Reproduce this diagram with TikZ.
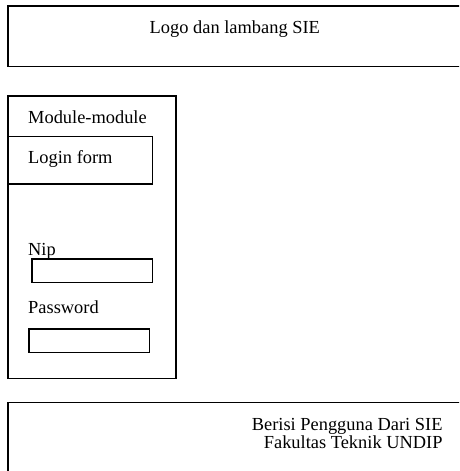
\documentclass[tikz,border=0pt]{standalone}
\usepackage{fontspec}
\setmainfont{Liberation Serif}
\begin{document}
\begin{tikzpicture}[x=1pt,y=-1pt,
  frame/.style={draw=black,line width=1.1pt},
  lbl/.style={inner sep=0pt,font=\fontsize{18.4}{21}\selectfont}]
\useasboundingbox (0,0) rectangle (459,471);
\clip (0,0) rectangle (459,471);
% header
\draw[frame] (8,6) rectangle (480,66.5);
\node[lbl,anchor=base] (logo) at (234.8,33.3) {Logo dan lambang SIE};
% module panel
\draw[frame] (8,96) rectangle (176,378.5);
\node[lbl,anchor=base west] (mods) at (28,123.3) {Module-module};
\draw[frame] (8,136.5) rectangle (152.5,184);
\node[lbl,anchor=base west] (login) at (28,163.3) {Login form};
\node[lbl,anchor=base west] (nip) at (28,255) {Nip};
\draw[frame] (32,259) rectangle (152.5,282.3);
\node[lbl,anchor=base west] (pass) at (28,313.3) {Password};
\draw[frame] (29,329) rectangle (149.3,352.8);
% footer
\draw[frame] (8,402.7) rectangle (480,490);
\node[lbl,anchor=base east] (foot1) at (442.7,430) {Berisi Pengguna Dari SIE};
\node[lbl,anchor=base east] (foot2) at (442.7,448.3) {Fakultas Teknik UNDIP};
\end{tikzpicture}
\end{document}
